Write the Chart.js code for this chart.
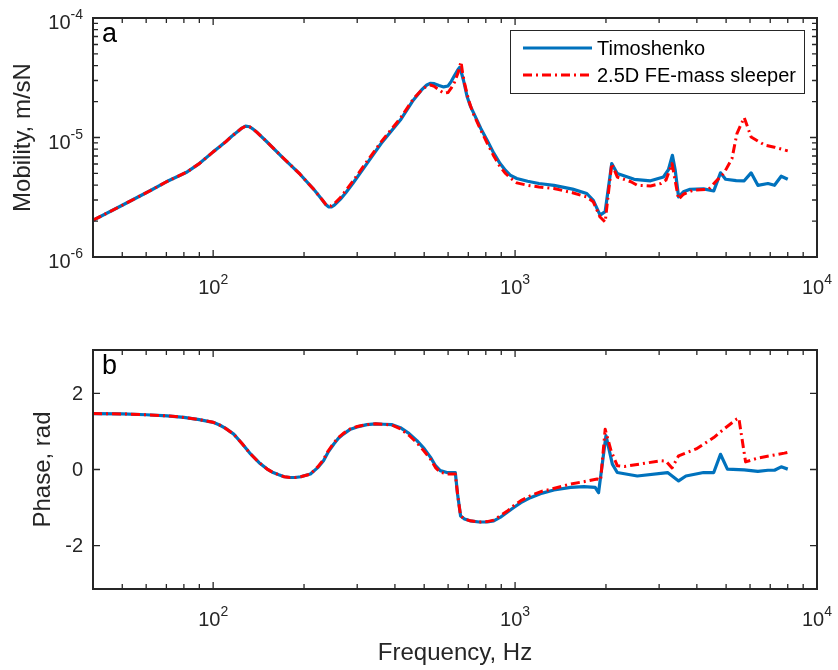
<!DOCTYPE html>
<html>
<head>
<meta charset="utf-8">
<script src="https://cdn.jsdelivr.net/npm/chart.js@4.4.0/dist/chart.umd.min.js"></script>
<style>
  html, body { margin: 0; padding: 0; background: #ffffff; }
  #wrap { position: relative; width: 838px; height: 670px; overflow: hidden; background: #ffffff; }
  #wrap canvas { position: absolute; left: 0; }
  #mobCanvas { top: 0; }
  #phaseCanvas { top: 310px; }
</style>
</head>
<body>
<div id="wrap">
  <canvas id="mobCanvas" width="838" height="310"></canvas>
  <canvas id="phaseCanvas" width="838" height="360"></canvas>
</div>
<script>
// ---- Series: point mobility (m/sN) ----
const timoMobFreq = [40, 50, 62, 70, 82, 90, 100, 105, 110, 115, 120, 124, 128, 132, 136, 140, 150, 170, 194, 215, 230, 236, 241, 246, 252, 258, 264, 275,
  290, 323, 360, 417, 460, 490, 510, 525, 540, 560, 580, 600, 615, 630, 645, 655, 665, 675, 694, 710, 730, 770, 808, 850, 892, 930, 963, 1013, 1100,
  1200, 1345, 1550, 1728, 1816, 1912, 1988, 2090, 2180, 2480, 2810, 3100, 3220, 3320, 3390, 3480, 3610, 3800,
  4210, 4550, 4790, 4980, 5400, 5740, 6050, 6370, 6880, 7230, 7610, 8000];
const timoMob = [2.03e-6, 2.71e-6, 3.6e-6, 4.26e-6, 5.15e-6, 6.05e-6, 7.58e-6, 8.35e-6, 9.2e-6, 1.02e-5, 1.11e-5, 1.19e-5, 1.245e-5, 1.23e-5, 1.17e-5, 1.1e-5, 9.3e-6, 6.8e-6, 4.93e-6, 3.7e-6, 3.0e-6, 2.75e-6, 2.63e-6, 2.62e-6, 2.72e-6, 2.88e-6, 3.05e-6, 3.45e-6,
  4.12e-6, 6.05e-6, 8.9e-6, 1.4e-5, 2.05e-5, 2.5e-5, 2.75e-5, 2.84e-5, 2.82e-5, 2.72e-5, 2.65e-5, 2.7e-5, 2.95e-5, 3.3e-5, 3.65e-5, 3.85e-5, 3.45e-5, 3.0e-5, 2.19e-5, 1.85e-5, 1.59e-5, 1.19e-5, 9.5e-6, 7.4e-6, 6.05e-6, 5.3e-6, 4.84e-6, 4.54e-6, 4.3e-6,
  4.12e-6, 3.98e-6, 3.7e-6, 3.4e-6, 2.98e-6, 2.24e-6, 2.4e-6, 6.05e-6, 5.0e-6, 4.47e-6, 4.34e-6, 4.67e-6, 5.37e-6, 7.1e-6, 5.37e-6, 3.18e-6, 3.51e-6, 3.69e-6,
  3.72e-6, 3.57e-6, 5.06e-6, 4.47e-6, 4.35e-6, 4.34e-6, 5.06e-6, 3.98e-6, 4.12e-6, 3.98e-6, 4.74e-6, 4.47e-6];

const feMobFreq = [40, 50, 62, 70, 82, 90, 100, 105, 110, 115, 120, 124, 128, 132, 136, 140, 150, 170, 194, 215, 230, 236, 241, 246, 252, 258, 264, 275,
  290, 323, 360, 417, 460, 490, 510, 525, 540, 560, 580, 600, 615, 630, 648, 662, 671, 680, 700, 715, 730, 770, 808, 850, 892, 930, 963, 1013, 1100,
  1200, 1345, 1550, 1728, 1816, 1912, 1988, 2090, 2180, 2420, 2540, 2810, 3040, 3160, 3310, 3480, 3610, 3890,
  4380, 4670, 4910, 5230, 5430, 5740, 6050, 6720, 7230, 8000];
const feMob = [2.03e-6, 2.71e-6, 3.6e-6, 4.26e-6, 5.15e-6, 6.05e-6, 7.58e-6, 8.35e-6, 9.2e-6, 1.02e-5, 1.11e-5, 1.19e-5, 1.245e-5, 1.23e-5, 1.17e-5, 1.1e-5, 9.3e-6, 6.8e-6, 4.93e-6, 3.7e-6, 3.0e-6, 2.76e-6, 2.66e-6, 2.68e-6, 2.8e-6, 2.97e-6, 3.15e-6, 3.6e-6,
  4.3e-6, 6.3e-6, 9.2e-6, 1.45e-5, 2.1e-5, 2.5e-5, 2.7e-5, 2.75e-5, 2.68e-5, 2.5e-5, 2.35e-5, 2.38e-5, 2.6e-5, 2.9e-5, 3.5e-5, 4.3e-5, 3.4e-5, 2.85e-5, 2.1e-5, 1.78e-5, 1.55e-5, 1.15e-5, 9.0e-6, 7.0e-6, 5.7e-6, 5.0e-6, 4.6e-6, 4.17e-6, 3.98e-6,
  3.85e-6, 3.74e-6, 3.45e-6, 3.18e-6, 2.89e-6, 2.16e-6, 1.96e-6, 6.05e-6, 4.67e-6, 4.26e-6, 3.98e-6, 3.93e-6, 4.12e-6, 4.4e-6, 6.05e-6, 3.04e-6, 3.35e-6, 3.62e-6,
  3.69e-6, 4.4e-6, 5.0e-6, 6.67e-6, 1.08e-5, 1.47e-5, 1.01e-5, 8.63e-6, 8.3e-6, 7.73e-6];

// ---- Series: phase (rad) ----
const timoPhaseFreq = [40, 50, 60, 70.5, 80, 90, 100, 105, 110, 117, 125, 133, 142, 151, 158, 165, 172, 180, 187, 195, 210, 222, 232, 240, 251,
  260, 270, 285, 300, 323, 345, 367, 390, 417, 445, 473, 500, 525, 545, 565, 595, 634, 645, 660, 680, 710, 760, 808, 850,
  892, 940, 990, 1045, 1124, 1230, 1345, 1527, 1690, 1842, 1890, 2000, 2100, 2180, 2540, 3200, 3480, 3680, 4210, 4550,
  4790, 5050, 5740, 6370, 6880, 7230, 7610, 8000];
const timoPhase = [1.47, 1.46, 1.44, 1.41, 1.37, 1.31, 1.24, 1.17, 1.08, 0.93, 0.67, 0.41, 0.18, 0.01, -0.08, -0.14, -0.19, -0.21, -0.21, -0.19, -0.12, 0.05, 0.23, 0.45, 0.67,
  0.82, 0.93, 1.06, 1.12, 1.18, 1.2, 1.19, 1.18, 1.10, 0.95, 0.76, 0.55, 0.32, 0.10, -0.03, -0.08, -0.08, -0.65, -1.22, -1.30, -1.35, -1.38, -1.38, -1.35,
  -1.26, -1.13, -1.0, -0.87, -0.74, -0.62, -0.54, -0.47, -0.45, -0.47, -0.61, 0.89, 0.14, -0.08, -0.17, -0.08, -0.30, -0.17, -0.08, -0.08,
  0.40, 0.01, -0.01, -0.05, -0.02, -0.02, 0.07, 0.01];

const fePhaseFreq = [40, 50, 60, 70.5, 80, 90, 100, 105, 110, 117, 125, 133, 142, 151, 158, 165, 172, 180, 187, 195, 210, 222, 232, 240, 251,
  260, 270, 285, 300, 323, 345, 367, 390, 417, 445, 473, 500, 525, 545, 565, 595, 634, 645, 660, 680, 710, 760, 808, 850,
  892, 940, 990, 1045, 1124, 1230, 1313, 1527, 1690, 1870, 1920, 1988, 2080, 2180, 2300, 3040, 3160, 3310, 3480, 3980,
  4550, 4910, 5430, 5510, 5800, 6370, 7800, 8000];
const fePhase = [1.47, 1.46, 1.44, 1.41, 1.37, 1.31, 1.24, 1.17, 1.08, 0.93, 0.67, 0.41, 0.18, 0.01, -0.08, -0.14, -0.19, -0.21, -0.21, -0.19, -0.12, 0.07, 0.26, 0.48, 0.7,
  0.84, 0.95, 1.07, 1.13, 1.18, 1.2, 1.19, 1.17, 1.07, 0.9, 0.7, 0.48, 0.27, 0.05, -0.07, -0.12, -0.12, -0.65, -1.22, -1.30, -1.35, -1.38, -1.37, -1.33,
  -1.22, -1.10, -0.95, -0.82, -0.69, -0.57, -0.52, -0.38, -0.32, -0.25, -0.28, 1.06, 0.49, 0.10, 0.08, 0.23, 0.22, 0.04, 0.36, 0.54,
  0.84, 1.06, 1.33, 1.35, 0.20, 0.30, 0.43, 0.45];

// ---- Series names ----
const seriesNames = ['Timoshenko', '2.5D FE-mass sleeper'];

// ---- Axis ticks ----
const freqMajorTicks = [100, 1000, 10000];
const freqTickLabels = [['10', '2'], ['10', '3'], ['10', '4']];
const mobMajorTicks = [1e-6, 1e-5, 1e-4];
const mobTickLabels = [['10', '-6'], ['10', '-5'], ['10', '-4']];
const phaseTicks = [-2, 0, 2];
const phaseTickLabels = ['-2', '0', '2'];

const AXIS_COLOR = '#262626';
const BLUE = '#0072BD';
const RED = '#FF0000';
const RED_DASH = [9, 4, 2, 4];
const FONT = '"Liberation Sans", Arial, Helvetica, sans-serif';

function pts(xs, ys) { return xs.map((x, i) => ({ x: x, y: ys[i] })); }

// Minor ticks for a log axis between lo and hi (mantissas 2..9 of each decade)
function logMinors(lo, hi) {
  const out = [];
  for (let d = Math.floor(Math.log10(lo)); d <= Math.ceil(Math.log10(hi)); d++) {
    for (let m = 2; m <= 9; m++) {
      const v = m * Math.pow(10, d);
      if (v > lo && v < hi) out.push(v);
    }
  }
  return out;
}

function drawPow(ctx, base, exp, x, y, align) {
  ctx.font = '20px ' + FONT;
  const wb = ctx.measureText(base).width;
  ctx.font = '14px ' + FONT;
  const we = ctx.measureText(exp).width;
  const total = wb + we;
  let x0 = align === 'right' ? x - total : x - total / 2;
  ctx.textAlign = 'left';
  ctx.textBaseline = 'alphabetic';
  ctx.font = '20px ' + FONT;
  ctx.fillText(base, x0, y);
  ctx.font = '14px ' + FONT;
  ctx.fillText(exp, x0 + wb, y - 10);
}

// Boxed axes with inward ticks on all four sides, labels and titles
function framePlugin(cfg) {
  return {
    id: 'frame_' + cfg.name,
    afterDatasetsDraw(chart) {
      const ctx = chart.ctx, a = chart.chartArea;
      const xs = chart.scales.x, ys = chart.scales.y;
      ctx.save();
      ctx.strokeStyle = AXIS_COLOR;
      ctx.lineWidth = 1.3;
      ctx.beginPath();
      const xTick = (v, len) => {
        const p = xs.getPixelForValue(v);
        ctx.moveTo(p, a.bottom); ctx.lineTo(p, a.bottom - len);
        ctx.moveTo(p, a.top); ctx.lineTo(p, a.top + len);
      };
      const yTick = (v, len) => {
        const p = ys.getPixelForValue(v);
        ctx.moveTo(a.left, p); ctx.lineTo(a.left + len, p);
        ctx.moveTo(a.right, p); ctx.lineTo(a.right - len, p);
      };
      freqMajorTicks.forEach(v => xTick(v, 7));
      logMinors(xs.min, xs.max).forEach(v => xTick(v, 5));
      cfg.yMajor.forEach(v => yTick(v, 7));
      if (cfg.yLog) logMinors(ys.min, ys.max).forEach(v => yTick(v, 5));
      ctx.stroke();

      ctx.lineWidth = 2;
      ctx.strokeRect(a.left, a.top, a.right - a.left, a.bottom - a.top);

      // tick labels
      ctx.fillStyle = AXIS_COLOR;
      freqMajorTicks.forEach((v, i) => {
        const p = xs.getPixelForValue(v);
        drawPow(ctx, freqTickLabels[i][0], freqTickLabels[i][1], p, a.bottom + 37, 'center');
      });
      cfg.yMajor.forEach((v, i) => {
        const p = ys.getPixelForValue(v);
        if (cfg.yLog) {
          drawPow(ctx, cfg.yLabels[i][0], cfg.yLabels[i][1], a.left - 10, p + 11, 'right');
        } else {
          ctx.font = '20px ' + FONT;
          ctx.textAlign = 'right';
          ctx.textBaseline = 'middle';
          ctx.fillText(cfg.yLabels[i], a.left - 10, p + 1);
        }
      });

      // y axis title
      ctx.font = '24px ' + FONT;
      ctx.textAlign = 'center';
      ctx.textBaseline = 'middle';
      ctx.save();
      ctx.translate(cfg.yTitleX, (a.top + a.bottom) / 2);
      ctx.rotate(-Math.PI / 2);
      ctx.fillText(cfg.yTitle, 0, 0);
      ctx.restore();

      // x axis title
      if (cfg.xTitle) {
        ctx.textBaseline = 'alphabetic';
        ctx.fillText(cfg.xTitle, (a.left + a.right) / 2, a.bottom + 71);
      }

      // panel letter
      ctx.fillStyle = '#000000';
      ctx.font = '27px ' + FONT;
      ctx.textAlign = 'left';
      ctx.textBaseline = 'alphabetic';
      ctx.fillText(cfg.panel, a.left + 9, a.top + 24);

      // legend
      if (cfg.legend) {
        const lx = 510, ly = 30, lw = 294, lh = 63;
        ctx.fillStyle = '#ffffff';
        ctx.fillRect(lx, ly, lw, lh);
        ctx.strokeStyle = AXIS_COLOR;
        ctx.lineWidth = 1;
        ctx.strokeRect(lx + 0.5, ly + 0.5, lw, lh);
        const ds = chart.data.datasets;
        const rows = [ly + 18, ly + 45];
        ds.forEach((d, i) => {
          ctx.save();
          ctx.strokeStyle = d.borderColor;
          ctx.lineWidth = d.borderWidth;
          ctx.setLineDash(d.borderDash || []);
          ctx.beginPath();
          ctx.moveTo(lx + 13, rows[i]);
          ctx.lineTo(lx + 82, rows[i]);
          ctx.stroke();
          ctx.restore();
          ctx.fillStyle = '#000000';
          ctx.font = '20px ' + FONT;
          ctx.textAlign = 'left';
          ctx.textBaseline = 'middle';
          ctx.fillText(d.label, lx + 87, rows[i] + 1);
        });
      }
      ctx.restore();
    }
  };
}

function lineSets(aFreq, aVal, bFreq, bVal) {
  return [
    { label: seriesNames[0], data: pts(aFreq, aVal), borderColor: BLUE, borderWidth: 3.2,
      pointRadius: 0, fill: false, tension: 0, order: 1, borderJoinStyle: 'round' },
    { label: seriesNames[1], data: pts(bFreq, bVal), borderColor: RED, borderWidth: 3,
      borderDash: RED_DASH, pointRadius: 0, fill: false, tension: 0, order: 0, borderJoinStyle: 'round' }
  ];
}

function baseOptions(padTop, xHeight, yMin, yMax, yType) {
  return {
    responsive: false,
    animation: false,
    events: [],
    layout: { padding: { top: padTop, right: 21, bottom: 0, left: 0 } },
    plugins: { legend: { display: false }, tooltip: { enabled: false } },
    scales: {
      x: { type: 'logarithmic', min: 40, max: 10000,
        grid: { display: false }, border: { display: false }, ticks: { display: false },
        afterFit(s) { s.height = xHeight; } },
      y: { type: yType, min: yMin, max: yMax,
        grid: { display: false }, border: { display: false }, ticks: { display: false },
        afterFit(s) { s.width = 93; } }
    }
  };
}

new Chart(document.getElementById('mobCanvas'), {
  type: 'line',
  data: { datasets: lineSets(timoMobFreq, timoMob, feMobFreq, feMob) },
  options: baseOptions(18, 53, 1e-6, 1e-4, 'logarithmic'),
  plugins: [framePlugin({ name: 'mob', yMajor: mobMajorTicks, yLabels: mobTickLabels, yLog: true,
    yTitle: 'Mobility, m/sN', yTitleX: 23, panel: 'a', legend: true })]
});

new Chart(document.getElementById('phaseCanvas'), {
  type: 'line',
  data: { datasets: lineSets(timoPhaseFreq, timoPhase, fePhaseFreq, fePhase) },
  options: baseOptions(40, 81, -Math.PI, Math.PI, 'linear'),
  plugins: [framePlugin({ name: 'phase', yMajor: phaseTicks, yLabels: phaseTickLabels, yLog: false,
    yTitle: 'Phase, rad', yTitleX: 43, xTitle: 'Frequency, Hz', panel: 'b', legend: false })]
});
</script>
</body>
</html>
